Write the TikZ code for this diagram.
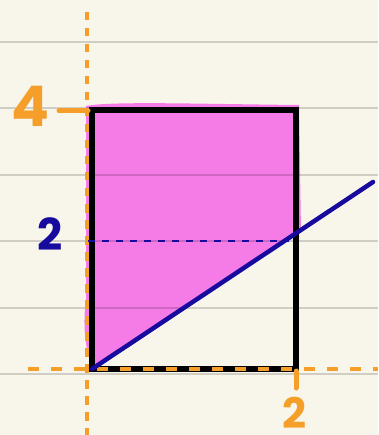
\documentclass[tikz,border=0pt]{standalone}
\usepackage{fontspec}
\setmainfont{Poppins}
\definecolor{paper}{HTML}{F8F6EA}
\definecolor{pinkfill}{HTML}{F57BE7}
\definecolor{orng}{HTML}{F59E2A}
\definecolor{navy}{HTML}{170A9E}
\tikzset{
  rule/.style={black, opacity=0.16, line width=1.5pt},
  odashh/.style={orng, line width=3.5pt, dash pattern=on 11pt off 12pt},
  odashv/.style={orng, line width=3.5pt, dash pattern=on 8.5pt off 7.5pt},
  otick/.style={orng, line width=5pt, line cap=round},
  box/.style={black, line width=6pt, line join=miter},
  bline/.style={navy, line width=4.5pt, line cap=round},
  bdash/.style={navy, line width=2.2pt, dash pattern=on 7pt off 7pt},
  olabel/.style={text=orng, font=\bfseries\fontsize{56}{56}\selectfont, inner sep=0pt},
  oxlabel/.style={text=orng, font=\bfseries\fontsize{42}{42}\selectfont, inner sep=0pt},
  blabel/.style={text=navy, font=\bfseries\fontsize{44}{44}\selectfont, inner sep=0pt},
}
\begin{document}
\begin{tikzpicture}[x=1pt,y=-1pt]
\fill[paper] (0,0) rectangle (378,435);
\useasboundingbox (0,0) rectangle (378,435);
% pink shaded region
\fill[pinkfill] (86,106) .. controls (110,101) and (200,104) .. (299,105)
  -- (301,232) -- (93,366) .. controls (84,350) and (83,320) .. (86,300) -- cycle;
% ruled lines
\foreach \yy in {42,108,175,241,308,374} \draw[rule] (0,\yy) -- (378,\yy);
% coordinates
\coordinate (O) at (92,369);
\coordinate (TL) at (92,110);
\coordinate (TR) at (296,110);
\coordinate (BR) at (296,369);
\coordinate (vtop) at (87,12);
\coordinate (vbot) at (87,435);
\coordinate (hl) at (28,369);
\coordinate (hr) at (378,369);
\coordinate (lineEnd) at (373,182);
\coordinate (midL) at (88,241);
\coordinate (midR) at (289,241);
% orange vertical dashed axis
\draw[odashv] (vtop) -- (vbot);
% black rectangle
\draw[box] (O) -- (TL) -- (TR) -- (BR) -- cycle;
% orange horizontal dashed axis
\draw[odashh] (hl) -- (hr);
% ticks
\coordinate (t4a) at (59,111);
\coordinate (t4b) at (88,111);
\coordinate (t2a) at (296,371);
\coordinate (t2b) at (296,388);
\draw[otick] (t4a) -- (t4b);
\draw[otick] (t2a) -- (t2b);
% blue dashed level
\draw[bdash] (midL) -- (midR);
% blue line
\draw[bline] (O) -- (lineEnd);
% labels
\node[olabel] (l4) at (30,106) {4};
\node[oxlabel] (l2x) at (294,413) {2};
\node[blabel] (l2y) at (50,234) {2};
\end{tikzpicture}
\end{document}
